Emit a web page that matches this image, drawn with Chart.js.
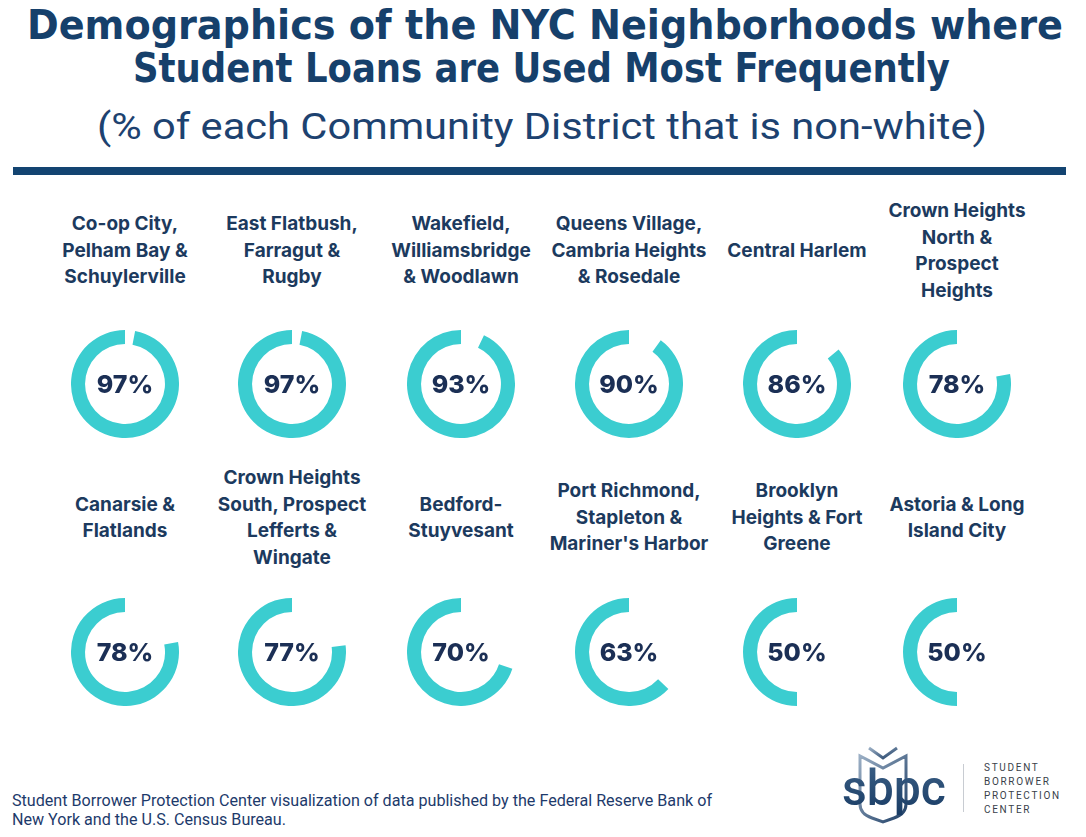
<!DOCTYPE html>
<html>
<head>
<meta charset="utf-8">
<script src="https://cdn.jsdelivr.net/npm/chart.js@4.4.1/dist/chart.umd.min.js"></script>
<style>
  html, body { margin: 0; padding: 0; background: #ffffff; }
  body { width: 1086px; height: 837px; position: relative; overflow: hidden; font-family: Inter, "Noto Sans", sans-serif; }
  .fit { position: absolute; white-space: nowrap; transform-origin: 0 50%; line-height: 1; }
  .title { font-family: "Liberation Sans Narrow", "DejaVu Sans Condensed", "Roboto", sans-serif; font-weight: 700; font-size: 40px; color: #16406b; }
  .sub { font-family: "Liberation Sans Narrow", "Roboto", sans-serif; font-weight: 400; font-size: 37px; color: #1d4270; }
  .foot { font-family: "Liberation Sans Narrow", "Roboto", sans-serif; font-size: 16px; color: #1d3a6b; }
  .rule { position: absolute; left: 13px; top: 167px; width: 1053px; height: 8px; background: #134471; }
  .label { position: absolute; width: 180px; text-align: center; font-weight: 700; font-size: 19px; line-height: 26.5px; color: #1c3a5e; white-space: pre; }
  .pct { position: absolute; width: 100px; text-align: center; font-weight: 800; font-size: 25px; line-height: 30px; color: #1b2f55; }
  .logo-txt { position: absolute; left: 984px; top: 761px; font-family: Roboto, "Noto Sans", sans-serif; font-size: 10px; letter-spacing: 1.7px; line-height: 14px; color: #3a3f4a; }
  .logo-line { position: absolute; left: 963px; top: 764px; width: 1px; height: 48px; background: #c8ccd2; }
</style>
</head>
<body>
<div class="fit title" data-x="27" data-y="25" data-w="1036">Demographics of the NYC Neighborhoods where</div>
<div class="fit title" data-x="133" data-y="68" data-w="817">Student Loans are Used Most Frequently</div>
<div class="fit sub" data-x="97" data-y="126" data-w="890">(% of each Community District that is non-white)</div>
<div class="rule"></div>

<div id="grid"></div>

<div class="fit foot" data-x="12" data-y="801" data-w="700">Student Borrower Protection Center visualization of data published by the Federal Reserve Bank of</div>
<div class="fit foot" data-x="12" data-y="820" data-w="274">New York and the U.S. Census Bureau.</div>

<svg style="position:absolute;left:838px;top:742px" width="115" height="90" viewBox="0 0 115 90">
  <defs>
    <linearGradient id="lg" x1="0" y1="0" x2="1" y2="1">
      <stop offset="0" stop-color="#9aaec4"/>
      <stop offset="1" stop-color="#1f3f66"/>
    </linearGradient>
    <linearGradient id="lg2" x1="0" y1="0" x2="0" y2="1">
      <stop offset="0" stop-color="#3e6288"/>
      <stop offset="1" stop-color="#173a63"/>
    </linearGradient>
  </defs>
  <path d="M22 14 L22 62 Q22 72 34 76 L45 80 L56 76 Q68 72 68 62 L68 14 L45 26 Z" fill="none" stroke="url(#lg)" stroke-width="3"/>
  <path d="M31 6 L45 16 L59 6" fill="none" stroke="url(#lg)" stroke-width="3"/>
  <text x="4" y="63" font-family="Roboto, 'Noto Sans', sans-serif" font-size="50" font-weight="500" fill="url(#lg2)" textLength="104" lengthAdjust="spacingAndGlyphs">sbpc</text>
</svg>
<div class="logo-line"></div>
<div class="logo-txt">STUDENT<br>BORROWER<br>PROTECTION<br>CENTER</div>

<script>
// ---- data ----
const neighborhoods = [
  "Co-op City,\nPelham Bay &\nSchuylerville",
  "East Flatbush,\nFarragut &\nRugby",
  "Wakefield,\nWilliamsbridge\n& Woodlawn",
  "Queens Village,\nCambria Heights\n& Rosedale",
  "Central Harlem",
  "Crown Heights\nNorth &\nProspect\nHeights",
  "Canarsie &\nFlatlands",
  "Crown Heights\nSouth, Prospect\nLefferts &\nWingate",
  "Bedford-\nStuyvesant",
  "Port Richmond,\nStapleton &\nMariner's Harbor",
  "Brooklyn\nHeights & Fort\nGreene",
  "Astoria & Long\nIsland City"
];
const nonWhitePct = [97, 97, 93, 90, 86, 78, 78, 77, 70, 63, 50, 50];

// ---- layout ----
const colCenters = [125, 292, 461, 629, 797, 957];
const rowDonutY = [384, 652];
const rowLabelY = [251, 518];
const R = 54;
const ringColor = "#3bcdd0";

// fit texts to measured widths
document.querySelectorAll('.fit').forEach(el => {
  const x = +el.dataset.x, y = +el.dataset.y, w = +el.dataset.w;
  const nat = el.getBoundingClientRect().width;
  const h = el.getBoundingClientRect().height;
  el.style.left = x + 'px';
  el.style.top = (y - h / 2) + 'px';
  el.style.transform = 'scaleX(' + (w / nat) + ')';
});

const grid = document.getElementById('grid');
neighborhoods.forEach((name, i) => {
  const col = i % 6, row = Math.floor(i / 6);
  const cx = colCenters[col], cy = rowDonutY[row];
  const lab = document.createElement('div');
  lab.className = 'label';
  lab.textContent = name;
  const nLines = name.split('\n').length;
  lab.style.left = (cx - 90) + 'px';
  lab.style.top = (rowLabelY[row] - nLines * 26.5 / 2) + 'px';
  grid.appendChild(lab);

  const cv = document.createElement('canvas');
  cv.width = 2 * R; cv.height = 2 * R;
  cv.style.left = (cx - R) + 'px';
  cv.style.top = (cy - R) + 'px';
  cv.style.width = 2 * R + 'px';
  cv.style.height = 2 * R + 'px';
  cv.style.position = 'absolute';
  grid.appendChild(cv);

  const pct = document.createElement('div');
  pct.className = 'pct';
  pct.textContent = nonWhitePct[i] + '%';
  pct.style.left = (cx - 50) + 'px';
  pct.style.top = (cy - 15) + 'px';
  grid.appendChild(pct);

  const v = nonWhitePct[i];
  new Chart(cv, {
    type: 'doughnut',
    data: {
      labels: ['white', 'non-white'],
      datasets: [{
        data: [100 - v, v],
        backgroundColor: ['rgba(0,0,0,0)', ringColor],
        borderWidth: 0,
        hoverOffset: 0
      }]
    },
    options: {
      responsive: false,
      animation: false,
      events: [],
      cutout: '74%',
      rotation: 0,
      layout: { padding: 0 },
      plugins: { legend: { display: false }, tooltip: { enabled: false } }
    }
  });
});
</script>
</body>
</html>
